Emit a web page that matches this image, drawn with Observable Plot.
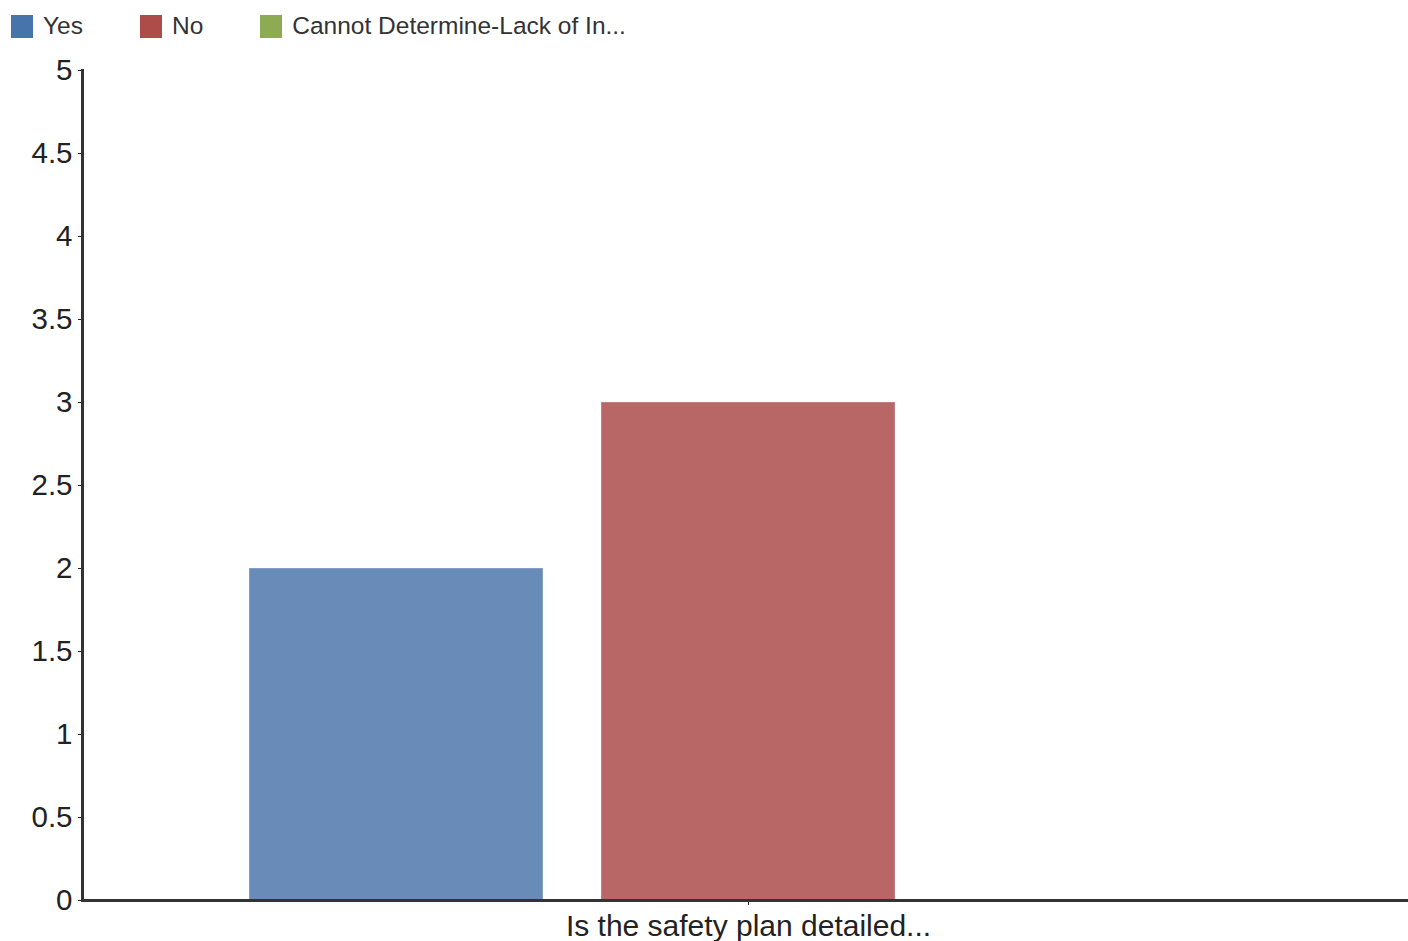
<!DOCTYPE html>
<html>
<head>
<meta charset="utf-8">
<script src="https://cdn.jsdelivr.net/npm/d3@7"></script>
<script src="https://cdn.jsdelivr.net/npm/@observablehq/plot@0.6"></script>
<style>
  html, body { margin: 0; padding: 0; background: #fff; }
  body { width: 1408px; height: 941px; overflow: hidden; font-family: "Liberation Sans", Arial, sans-serif; }
  #legend { height: 50px; box-sizing: border-box; padding: 2px 0 0 11px; display: flex; align-items: center; font-size: 24.5px; color: #333; }
  .item { display: flex; align-items: center; margin-right: 57px; height: 24px; }
  .sw { width: 22px; height: 23px; margin-right: 10px; }
  #chart svg { display: block; font-family: "Liberation Sans", Arial, sans-serif; }
</style>
</head>
<body>
<div id="legend"></div>
<div id="chart"></div>
<script>
const categories = ["Is the safety plan detailed..."];
const series = ["Yes", "No", "Cannot Determine-Lack of In..."];
const values = [2, 3, 0];
const barColors = ["#688cb7", "#b86666", "#9bb86a"];
const legendColors = ["#4874ac", "#ae4c4a", "#8dab52"];
const yTicks = [0, 0.5, 1, 1.5, 2, 2.5, 3, 3.5, 4, 4.5, 5];

const legend = document.getElementById("legend");
series.forEach((s, i) => {
  const item = document.createElement("div");
  item.className = "item";
  const sw = document.createElement("div");
  sw.className = "sw";
  sw.style.background = legendColors[i];
  const t = document.createElement("span");
  t.textContent = s;
  item.appendChild(sw);
  item.appendChild(t);
  legend.appendChild(item);
});

const data = series.map((s, i) => ({category: categories[0], series: s, value: values[i]}));

const chart = Plot.plot({
  width: 1408,
  height: 891,
  marginTop: 20,
  marginBottom: 41,
  marginLeft: 82,
  marginRight: 0,
  x: {domain: series, paddingInner: 0.165, paddingOuter: 0.466, align: 0.51, axis: null},
  y: {domain: [0, 5], axis: null},
  color: {domain: series, range: barColors},
  marks: [
    Plot.barY(data, {x: "series", y: "value", fill: "series", stroke: "#fff", strokeOpacity: 0.35, strokeWidth: 1}),
    Plot.axisY({ticks: yTicks, tickFormat: d3.format("~g"), tickSize: 4, tickPadding: 6, fontSize: 29.5, color: "#222", label: null}),
    Plot.axisX({ticks: [series[1]], tickFormat: () => categories[0], tickSize: 5, tickPadding: 9, fontSize: 30, color: "#222", label: null}),
    Plot.ruleY([0], {stroke: "#333", strokeWidth: 3}),
    Plot.frame({anchor: "left", stroke: "#333", strokeWidth: 3})
  ]
});
document.getElementById("chart").appendChild(chart);
</script>
</body>
</html>
